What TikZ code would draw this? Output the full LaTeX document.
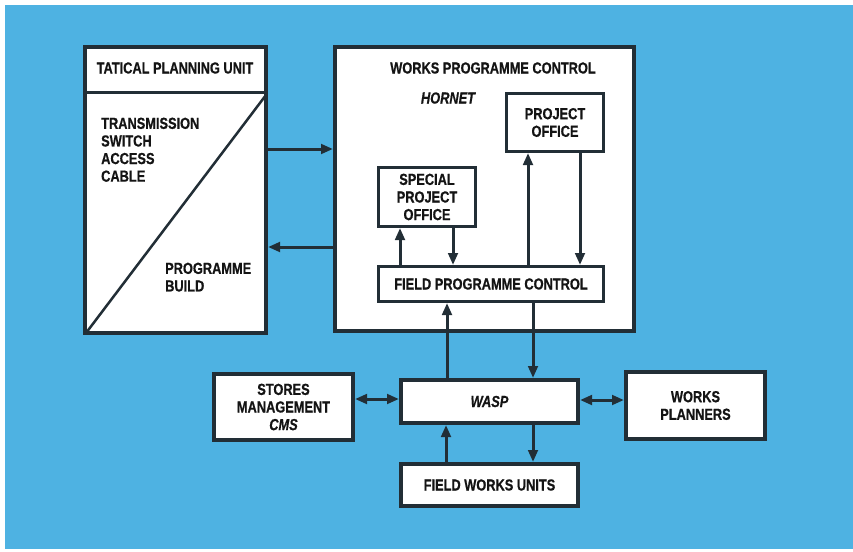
\documentclass[tikz,border=0pt]{standalone}
\usepackage{fontspec}
\newfontfamily\cond[FakeStretch=0.80,FakeBold=0.6]{Liberation Sans}
\newcommand\lblfont{\cond\bfseries\fontsize{16}{17.6}\selectfont}
\usetikzlibrary{arrows.meta}
\definecolor{sky}{RGB}{78,178,226}
\definecolor{ink}{RGB}{34,46,54}
\definecolor{txt}{RGB}{20,20,20}
\begin{document}
\begin{tikzpicture}[x=1pt,y=-1pt,
  box/.style={draw=ink, fill=white, line width=4pt, inner sep=0pt,
              font=\lblfont, text=txt, align=center},
  sub/.style={box, line width=3pt},
  lbl/.style={inner sep=0pt, font=\lblfont, text=txt, align=center},
  arr/.style={draw=ink, line width=3pt, -{Triangle[length=12pt,width=9.5pt]}},
  darr/.style={draw=ink, line width=3pt,
               {Triangle[length=12pt,width=9.5pt]}-{Triangle[length=12pt,width=9.5pt]}},
]
% page and blue panel
\useasboundingbox (0,0) rectangle (853,551);
\fill[sky] (5,5) rectangle (853,549);

% main boxes
\node[box, minimum width=181pt, minimum height=286pt] (tpu) at (175.5,190) {};
\node[box, minimum width=299pt, minimum height=284pt] (wpc) at (484.5,189) {};

% inside works programme control
\node[sub, minimum width=97pt, minimum height=58pt] (po) at (555,122.5) {PROJECT\\OFFICE};
\node[sub, minimum width=97pt, minimum height=59pt] (spo) at (427,197) {SPECIAL\\PROJECT\\OFFICE};
\node[sub, minimum width=225pt, minimum height=35pt] (fpc) at (491,284) {FIELD PROGRAMME CONTROL};

% lower row
\node[box, minimum width=139pt, minimum height=66pt] (stores) at (283.5,407) {STORES\\MANAGEMENT\\\textit{CMS}};
\node[box, minimum width=177pt, minimum height=43pt] (wasp) at (489.5,401.5) {\textit{WASP}};
\node[box, minimum width=177pt, minimum height=42pt] (fwu) at (489.5,485) {FIELD WORKS UNITS};
\node[box, minimum width=139pt, minimum height=67pt] (wp) at (695.5,405.5) {WORKS\\PLANNERS};

% tactical planning unit contents
\node[lbl] (tpuhead) at (175,68) {TATICAL PLANNING UNIT};
\draw[ink, line width=3pt] (tpu.west |- 0,92) -- (tpu.east |- 0,92);
\draw[ink, line width=2.5pt] (266,95) -- (86,333);
\node[lbl, anchor=north west, align=left] (tpulist) at (101,117.5) {TRANSMISSION\\SWITCH\\ACCESS\\CABLE};
\node[lbl, anchor=north west, align=left] (build) at (165,262.5) {PROGRAMME\\BUILD};

% works programme control headings
\node[lbl] (wpchead) at (493,68) {WORKS PROGRAMME CONTROL};
\node[lbl, font=\lblfont\itshape] (hornet) at (448,98) {HORNET};

% connectors
\draw[arr] (tpu.east |- 0,149) -- (wpc.west |- 0,149);
\draw[arr] (wpc.west |- 0,247) -- (tpu.east |- 0,247);
\draw[arr] (fpc.north -| 400,0) -- (spo.south -| 400,0);
\draw[arr] (spo.south -| 453,0) -- (fpc.north -| 453,0);
\draw[arr] (fpc.north -| 528,0) -- (po.south -| 528,0);
\draw[arr] (po.south -| 580,0) -- (fpc.north -| 580,0);
\draw[arr] (wasp.north -| 447,0) -- (fpc.south -| 447,0);
\draw[arr] (fpc.south -| 533,0) -- (wasp.north -| 533,0);
\draw[arr] (fwu.north -| 446,0) -- (wasp.south -| 446,0);
\draw[arr] (wasp.south -| 533,0) -- (fwu.north -| 533,0);
\draw[darr] (stores.east |- 0,399) -- (wasp.west |- 0,399);
\draw[darr] (wasp.east |- 0,400) -- (wp.west |- 0,400);
\end{tikzpicture}
\end{document}
